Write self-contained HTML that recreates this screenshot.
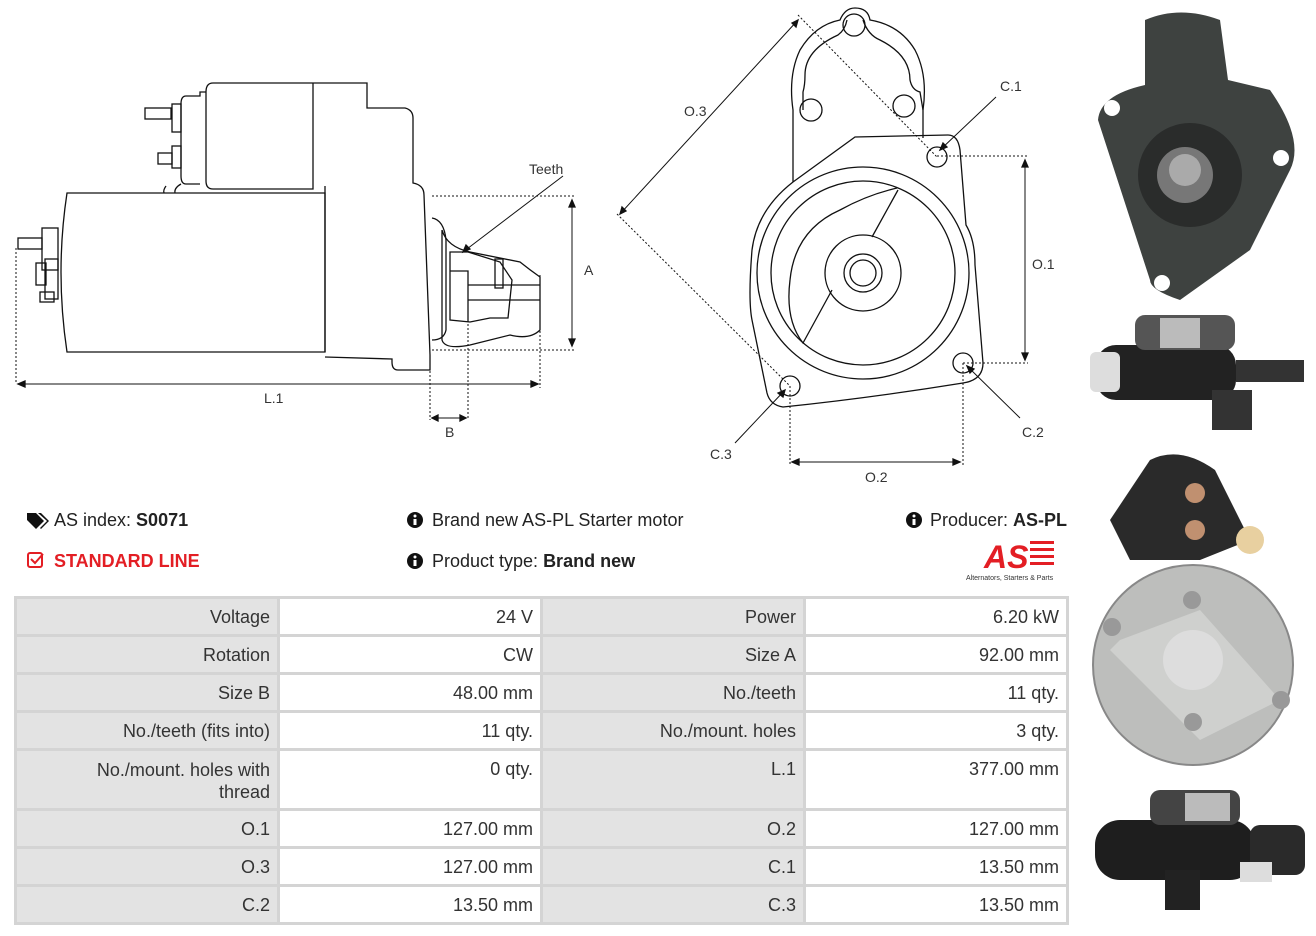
<!DOCTYPE html>
<html><head><meta charset="utf-8"><style>
body{margin:0;width:1316px;height:936px;background:#fff;font-family:"Liberation Sans",sans-serif;position:relative;overflow:hidden}
.t{position:absolute;font-size:18px;color:#222;white-space:nowrap}
table{position:absolute;left:14px;top:596px;border-collapse:collapse;width:1052px;font-size:18px;color:#333;table-layout:fixed}
td{border:3px solid #d4d4d4;text-align:right;padding:8px 7px 0 7px;vertical-align:top;height:27px;overflow:hidden}
td.l{background:#e3e3e3}
</style></head><body>
<svg width="1316" height="936" style="position:absolute;left:0;top:0" fill="none" stroke="#111" stroke-width="1.3" font-family="Liberation Sans" font-size="14">
<!-- side view -->
<path d="M67,193 L325,193 L325,352 L67,352 Q55,272 67,193Z"/>
<path d="M325,186 L325,352"/>
<path d="M213,83 L367,83 L367,108 L405,108 Q413,110 413,118 L413,183 Q424,185 424,195 L430,355 L430,370 L398,370 Q392,370 392,362 L392,359 L325,357"/>
<path d="M213,83 Q206,83 206,92 L206,181 Q206,189 213,189 L313,189 L313,83"/>
<path d="M206,92 L200,92 L200,96 L186,96 Q181,96 181,104 L181,176 Q181,184 186,184 L200,184"/>
<path d="M166,186 Q163,190 164,193 M181,184 Q174,188 175,193"/>
<rect x="172" y="104" width="9" height="28"/><rect x="145" y="108" width="26" height="11"/>
<rect x="172" y="146" width="9" height="22"/><rect x="158" y="153" width="14" height="11"/>
<rect x="42" y="228" width="16" height="42"/><rect x="18" y="238" width="24" height="11"/>
<rect x="36" y="263" width="10" height="22"/><rect x="45" y="259" width="13" height="40"/>
<rect x="40" y="292" width="14" height="10"/>
<path d="M432,218 Q444,220 446,240 L446,330 Q444,340 432,340"/>
<path d="M442,230 Q447,247 470,252 Q500,258 520,262 Q530,270 540,277 L540,330 Q530,340 510,335 L470,345 Q445,350 442,340 Z"/>
<path d="M450,252 L468,252 L500,262 L512,280 L508,318 L490,318 L470,322 L450,320 Z"/>
<path d="M450,271 L468,271 L468,322 M468,285 L540,285 M468,300 L540,300"/>
<rect x="495" y="259" width="8" height="29"/>
<g stroke-dasharray="2,2" stroke-width="1"><path d="M16,248 L16,384 M432,196 L575,196 M432,350 L575,350 M540,275 L540,388 M430,355 L430,420 M468,320 L468,420"/></g>
<path d="M18,384 L538,384 M572,200 L572,346 M432,418 L466,418" stroke-width="1"/>
<path d="M18,384 l7,-3 v6z M538,384 l-7,-3 v6z M572,200 l-3,7 h6z M572,346 l-3,-7 h6z M432,418 l6,-3 v6z M466,418 l-6,-3 v6z" fill="#111"/>
<path d="M563,176 L463,252" stroke-width="1"/><path d="M463,252 l3,-7 l4,4z" fill="#111"/>
<g fill="#333" stroke="none"><text x="529" y="174">Teeth</text><text x="584" y="275">A</text><text x="264" y="403">L.1</text><text x="445" y="437">B</text></g>
<!-- front view -->
<path d="M793,182 L793,110 Q788,75 800,50 Q815,25 840,20 Q845,8 855,8 Q868,8 870,20 Q900,25 915,50 Q928,75 923,110 L923,138"/>
<path d="M803,110 L803,92 Q805,85 805,75 Q805,50 838,35 Q845,30 847,20 M863,20 Q868,35 880,40 Q910,55 910,80 Q912,90 920,92 L923,110"/>
<circle cx="854" cy="25" r="11"/><circle cx="811" cy="110" r="11"/><circle cx="904" cy="106" r="11"/>
<path d="M793,182 L855,137 L948,135 Q958,135 960,150 L966,225 Q975,240 975,265 L983,363 Q983,380 963,383 Q870,398 783,407 Q770,405 767,393 L752,320 Q748,300 752,250 Q757,210 793,182"/>
<circle cx="863" cy="273" r="106"/><circle cx="863" cy="273" r="92"/>
<path d="M897,188 Q867,195 840,210 M898,190 L872,237 M832,290 L803,343 Q785,320 790,280 Q795,230 840,210"/>
<circle cx="863" cy="273" r="38"/><circle cx="863" cy="273" r="19"/><circle cx="863" cy="273" r="13"/>
<circle cx="937" cy="157" r="10"/><circle cx="963" cy="363" r="10"/><circle cx="790" cy="386" r="10"/>
<g stroke-dasharray="2,2" stroke-width="1"><path d="M798,15 L937,157 M617,214 L790,386 M937,156 L1028,156 M963,363 L1028,363 M790,386 L790,466 M963,363 L963,466"/></g>
<path d="M798,20 L620,214 M1025,160 L1025,360 M792,462 L960,462 M996,97 L940,150 M1020,418 L967,366 M735,443 L785,390" stroke-width="1"/>
<path d="M798,20 l-2,7 l-4,-4z M620,214 l2,-7 l4,4z M1025,160 l-3,7 h6z M1025,360 l-3,-7 h6z M792,462 l7,-3 v6z M960,462 l-7,-3 v6z M940,150 l3,-7 l4,4z M967,366 l7,3 l-4,4z M785,390 l-2,7 l-5,-4z" fill="#111"/>
<g fill="#333" stroke="none"><text x="684" y="116">O.3</text><text x="1000" y="91">C.1</text><text x="1032" y="269">O.1</text><text x="1022" y="437">C.2</text><text x="710" y="459">C.3</text><text x="865" y="482">O.2</text></g>
<!-- photos -->
<g stroke="none">
<path d="M1145,20 Q1180,5 1220,20 L1228,80 L1270,90 Q1305,140 1290,170 L1250,250 L1180,300 Q1150,290 1150,280 L1098,120 Q1100,95 1145,85Z" fill="#3e4240"/>
<circle cx="1190" cy="175" r="52" fill="#2a2c2b"/><circle cx="1185" cy="175" r="28" fill="#777"/><circle cx="1185" cy="170" r="16" fill="#aaa"/>
<circle cx="1112" cy="108" r="8" fill="#fff"/><circle cx="1281" cy="158" r="8" fill="#fff"/><circle cx="1162" cy="283" r="8" fill="#fff"/>
<rect x="1096" y="345" width="140" height="55" rx="20" fill="#222"/><rect x="1090" y="352" width="30" height="40" rx="6" fill="#ddd"/><rect x="1135" y="315" width="100" height="35" rx="10" fill="#555"/><rect x="1160" y="318" width="40" height="30" fill="#bbb"/><rect x="1236" y="360" width="68" height="22" fill="#333"/><rect x="1212" y="390" width="40" height="40" fill="#333"/>
<path d="M1150,460 Q1180,445 1215,470 L1250,540 L1200,560 L1130,560 L1110,520Z" fill="#2a2a2a"/>
<circle cx="1193" cy="665" r="100" fill="#bdbebc"/><circle cx="1193" cy="665" r="100" stroke="#888" stroke-width="2"/>
<path d="M1120,640 L1200,610 L1280,700 L1200,740 L1110,650Z" fill="#cfd0ce"/><circle cx="1193" cy="660" r="30" fill="#ddd"/>
<circle cx="1195" cy="493" r="10" fill="#c09070"/><circle cx="1195" cy="530" r="10" fill="#c09070"/><circle cx="1250" cy="540" r="14" fill="#e8d0a0"/>
<circle cx="1112" cy="627" r="9" fill="#999"/><circle cx="1281" cy="700" r="9" fill="#999"/><circle cx="1192" cy="600" r="9" fill="#999"/><circle cx="1193" cy="722" r="9" fill="#999"/>
<rect x="1095" y="820" width="160" height="60" rx="25" fill="#1e1e1e"/><rect x="1150" y="790" width="90" height="35" rx="10" fill="#444"/><rect x="1185" y="793" width="45" height="28" fill="#bbb"/><rect x="1250" y="825" width="55" height="50" rx="10" fill="#2a2a2a"/><rect x="1240" y="862" width="32" height="20" fill="#ddd"/><rect x="1165" y="870" width="35" height="40" fill="#222"/>
</g>
<!-- logo -->
<g stroke="none"><text x="984" y="568" font-size="32" font-weight="bold" font-style="italic" fill="#e31e24">AS</text>
<rect x="1030" y="541" width="24" height="3" fill="#e31e24"/><rect x="1030" y="548" width="24" height="3" fill="#e31e24"/><rect x="1030" y="555" width="24" height="3" fill="#e31e24"/><rect x="1030" y="562" width="24" height="3" fill="#e31e24"/>
<text x="966" y="580" font-size="7" fill="#333">Alternators, Starters &amp; Parts</text></g>
<!-- icons -->
<g stroke="none" fill="#111"><path d="M27,513 h9 l8,8 l-8,8 l-9,-9z"/><path d="M38,513 h3 l8,8 l-8,8 l-1,-1 l7,-7z"/>
<circle cx="415" cy="520" r="8"/><circle cx="415" cy="561" r="8"/><circle cx="914" cy="520" r="8"/></g>
<g fill="#fff" stroke="none"><rect x="413.5" y="519" width="3" height="6"/><circle cx="415" cy="516" r="1.5"/><rect x="413.5" y="560" width="3" height="6"/><circle cx="415" cy="557" r="1.5"/><rect x="912.5" y="519" width="3" height="6"/><circle cx="914" cy="516" r="1.5"/></g>
<rect x="28" y="553" width="14" height="14" rx="2" stroke="#e31e24" stroke-width="2"/><path d="M31,559 l4,4 l8,-9" stroke="#e31e24" stroke-width="2"/>
</svg>
<div class="t" style="left:54px;top:510px">AS index: <b>S0071</b></div>
<div class="t" style="left:54px;top:551px;color:#e31e24;font-weight:bold">STANDARD LINE</div>
<div class="t" style="left:432px;top:510px">Brand new AS-PL Starter motor</div>
<div class="t" style="left:432px;top:551px">Product type: <b>Brand new</b></div>
<div class="t" style="left:930px;top:510px">Producer: <b>AS-PL</b></div>
<table>
<colgroup><col style="width:263px"><col style="width:263px"><col style="width:263px"><col style="width:263px"></colgroup>
<tr><td class="l">Voltage</td><td>24 V</td><td class="l">Power</td><td>6.20 kW</td></tr>
<tr><td class="l">Rotation</td><td>CW</td><td class="l">Size A</td><td>92.00 mm</td></tr>
<tr><td class="l">Size B</td><td>48.00 mm</td><td class="l">No./teeth</td><td>11 qty.</td></tr>
<tr><td class="l">No./teeth (fits into)</td><td>11 qty.</td><td class="l">No./mount. holes</td><td>3 qty.</td></tr>
<tr><td class="l" style="height:49px;line-height:22px">No./mount. holes with<br>thread</td><td>0 qty.</td><td class="l">L.1</td><td>377.00 mm</td></tr>
<tr><td class="l">O.1</td><td>127.00 mm</td><td class="l">O.2</td><td>127.00 mm</td></tr>
<tr><td class="l">O.3</td><td>127.00 mm</td><td class="l">C.1</td><td>13.50 mm</td></tr>
<tr><td class="l">C.2</td><td>13.50 mm</td><td class="l">C.3</td><td>13.50 mm</td></tr>
</table>
</body></html>
